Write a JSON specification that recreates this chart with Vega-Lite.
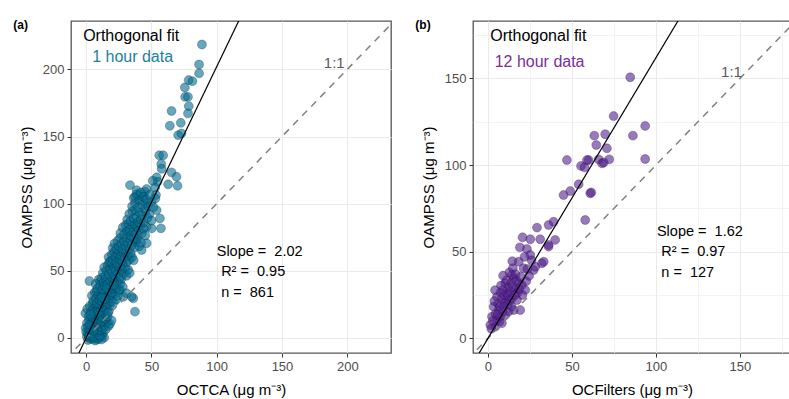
{
  "$schema": "https://vega.github.io/schema/vega-lite/v6.json",
  "padding": {"left": 12, "top": 18, "right": 0, "bottom": 0},
  "spacing": 22,
  "config": {
    "font": "Liberation Sans",
    "view": {"stroke": "#555555", "strokeWidth": 1.3},
    "axis": {"domain": false, "gridColor": "#ebebeb", "tickColor": "#333333", "tickSize": 4, "tickWidth": 1, "labelColor": "#4d4d4d", "labelFontSize": 13, "labelPadding": 3, "titleFontSize": 15, "titleFontWeight": "normal", "titleColor": "#000000", "labelFont": "Liberation Sans", "titleFont": "Liberation Sans", "labelOverlap": false, "labelFlush": false}
  },
  "datasets": {
    "a": [
      {"x":88.7,"y":218.5},{"x":86.5,"y":203.6},{"x":86.5,"y":197},{"x":78.5,"y":192},{"x":81.4,"y":191.2},{"x":75.6,"y":186.5},{"x":75.8,"y":179.5},{"x":78,"y":179.5},{"x":78.6,"y":172.6},{"x":78,"y":167.2},{"x":65.4,"y":169},{"x":64.1,"y":158},{"x":72.5,"y":160.2},{"x":70.5,"y":151},{"x":73,"y":152.3},{"x":56,"y":136},{"x":59,"y":136},{"x":57.5,"y":129.5},{"x":57.8,"y":126},{"x":54,"y":119.6},{"x":54.7,"y":116.3},{"x":65.4,"y":123.3},{"x":62.8,"y":114.4},{"x":70,"y":113.3},{"x":69.2,"y":120},{"x":33.6,"y":113.8},{"x":38.7,"y":110},{"x":45,"y":108.9},{"x":46.3,"y":110.9},{"x":37.4,"y":105},{"x":43.7,"y":105},{"x":41.2,"y":102.7},{"x":46.3,"y":100.2},{"x":54,"y":95.2},{"x":56.5,"y":89},{"x":57.3,"y":81.6},{"x":46.3,"y":82.8},{"x":50.2,"y":81.6},{"x":32.3,"y":79},{"x":36.1,"y":84},{"x":38.7,"y":72.9},{"x":46.3,"y":70.5},{"x":42.5,"y":65.5},{"x":37.4,"y":19.6},{"x":36.1,"y":29.5},{"x":2.5,"y":42.4},{"x":10.7,"y":41.9},{"x":26,"y":35.7},{"x":28.5,"y":30.7},{"x":31,"y":33.3},{"x":34.9,"y":30.7},{"x":40,"y":106.4},{"x":52.8,"y":112},{"x":53.5,"y":106.5},{"x":51,"y":117},
      {"x":0.5,"y":1},{"x":1.2,"y":3.5},{"x":2,"y":0.5},{"x":2.8,"y":2.2},{"x":3.5,"y":4.6},{"x":4.1,"y":1.1},{"x":4.9,"y":-0.8},{"x":5.6,"y":2.7},{"x":6.3,"y":0.3},{"x":7,"y":3.9},{"x":7.8,"y":1.5},{"x":8.5,"y":-1.2},{"x":9.1,"y":2.4},{"x":9.9,"y":4.1},{"x":10.6,"y":0.6},{"x":11.4,"y":2.9},{"x":12.2,"y":1.3},{"x":13,"y":3.6},{"x":13.8,"y":0.2},{"x":1.5,"y":-1.5},{"x":3,"y":-0.5},{"x":6.8,"y":-1.9},{"x":9.5,"y":-0.4},{"x":11.8,"y":-1.1},{"x":0,"y":4.5},{"x":4.4,"y":3.2},{"x":8.1,"y":4.8},{"x":2.3,"y":1.8},{"x":5.2,"y":0.9},{"x":10.2,"y":1.9},
      {"x":-0.4,"y":7.5},{"x":0.6,"y":11.2},{"x":1.4,"y":8.3},{"x":2.2,"y":13.6},{"x":3.1,"y":6.4},{"x":3.9,"y":10.1},{"x":4.6,"y":14.2},{"x":5.3,"y":7.7},{"x":6.1,"y":12.4},{"x":6.9,"y":9.1},{"x":7.6,"y":14.8},{"x":8.3,"y":6.2},{"x":9,"y":11.5},{"x":9.8,"y":8.6},{"x":10.5,"y":13.3},{"x":11.2,"y":5.8},{"x":12,"y":10.4},{"x":12.7,"y":7.1},{"x":13.5,"y":12.6},{"x":14.3,"y":9.3},{"x":15.1,"y":6.5},{"x":16,"y":11.8},{"x":17.2,"y":8.9},{"x":18.3,"y":10.5},{"x":19.5,"y":13.1},{"x":2.7,"y":9.8},{"x":5.7,"y":5.4},{"x":8.8,"y":13.9},{"x":11.6,"y":12.1},{"x":14.8,"y":14.4},
      {"x":-0.6,"y":18.4},{"x":0.8,"y":21.7},{"x":1.9,"y":16.2},{"x":2.9,"y":23.8},{"x":3.7,"y":19.3},{"x":4.6,"y":15.6},{"x":5.4,"y":22.1},{"x":6.2,"y":18.7},{"x":7.1,"y":24.6},{"x":7.9,"y":16.9},{"x":8.8,"y":20.8},{"x":9.6,"y":23.2},{"x":10.4,"y":17.5},{"x":11.3,"y":21.3},{"x":12.1,"y":15.4},{"x":13,"y":19.6},{"x":13.9,"y":24.1},{"x":14.7,"y":17.8},{"x":15.6,"y":22.4},{"x":16.5,"y":16.1},{"x":17.4,"y":20.2},{"x":18.2,"y":23.9},{"x":5.1,"y":26.1},{"x":9.2,"y":18.9},{"x":12.6,"y":23},{"x":16.9,"y":19},{"x":3.3,"y":17.4},{"x":10.9,"y":25.2},
      {"x":4.4,"y":31.5},{"x":5.5,"y":27.8},{"x":6.6,"y":33.9},{"x":7.5,"y":29.4},{"x":8.4,"y":25.7},{"x":9.3,"y":32.2},{"x":10.2,"y":28.1},{"x":11.1,"y":34.6},{"x":12,"y":26.9},{"x":12.9,"y":30.8},{"x":13.8,"y":33.5},{"x":14.7,"y":27.4},{"x":15.6,"y":31.1},{"x":16.5,"y":25.5},{"x":17.4,"y":29.7},{"x":18.3,"y":34.2},{"x":19.2,"y":27.2},{"x":20.1,"y":31.8},{"x":21,"y":26.3},{"x":22,"y":33},{"x":23.1,"y":28.6},{"x":24.2,"y":31.4},{"x":8,"y":35},{"x":14.2,"y":29},{"x":19.7,"y":33.8},{"x":11.6,"y":30.3},
      {"x":7.3,"y":40.2},{"x":8.6,"y":36.8},{"x":9.7,"y":43.5},{"x":10.7,"y":38.9},{"x":11.7,"y":44.6},{"x":12.6,"y":36.2},{"x":13.5,"y":41.8},{"x":14.4,"y":38.3},{"x":15.3,"y":44.1},{"x":16.2,"y":39.7},{"x":17.1,"y":35.6},{"x":18,"y":42.9},{"x":18.9,"y":38.8},{"x":19.8,"y":44.8},{"x":20.7,"y":36.9},{"x":21.6,"y":41.2},{"x":22.5,"y":43.9},{"x":23.4,"y":37.7},{"x":24.3,"y":41.6},{"x":25.2,"y":35.9},{"x":26.1,"y":40.4},{"x":27.1,"y":44.2},{"x":28.1,"y":38.1},{"x":15.8,"y":36.9},{"x":21.1,"y":39.3},
      {"x":12.8,"y":48.5},{"x":13.8,"y":52.6},{"x":14.7,"y":46.3},{"x":15.6,"y":50.4},{"x":16.5,"y":54.2},{"x":17.4,"y":47.3},{"x":18.3,"y":51.5},{"x":19.2,"y":55.3},{"x":20.1,"y":49.2},{"x":21,"y":53.4},{"x":21.9,"y":46.4},{"x":22.8,"y":50.1},{"x":23.7,"y":54.5},{"x":24.6,"y":48.2},{"x":25.5,"y":52.3},{"x":26.4,"y":45.8},{"x":27.3,"y":50.6},{"x":28.2,"y":54},{"x":29.1,"y":47.9},{"x":30,"y":52.2},{"x":31,"y":46.3},{"x":32.2,"y":50.8},{"x":33.4,"y":48.4},{"x":17.6,"y":56.3},{"x":22.3,"y":57.8},
      {"x":17.1,"y":60.2},{"x":18.6,"y":57.3},{"x":19.6,"y":62.4},{"x":20.5,"y":58.1},{"x":21.4,"y":64.1},{"x":22.3,"y":60.3},{"x":23.2,"y":56.2},{"x":24.1,"y":62.5},{"x":25,"y":64.8},{"x":25.9,"y":58.4},{"x":26.8,"y":61.2},{"x":27.7,"y":57.1},{"x":28.6,"y":63.3},{"x":29.5,"y":59.4},{"x":30.4,"y":64.3},{"x":31.3,"y":56.4},{"x":32.2,"y":61.1},{"x":33.1,"y":58.2},{"x":34.1,"y":63.2},{"x":35.2,"y":60.1},{"x":36.4,"y":57.8},{"x":20.3,"y":67},
      {"x":21.6,"y":70.2},{"x":23,"y":66.4},{"x":24,"y":72.3},{"x":25,"y":68.2},{"x":26,"y":74.4},{"x":27,"y":70.1},{"x":28,"y":66.3},{"x":29,"y":72.2},{"x":30,"y":68.5},{"x":31,"y":74.8},{"x":32,"y":70.3},{"x":33,"y":66.5},{"x":34,"y":73.2},{"x":35,"y":69.1},{"x":36,"y":74.3},{"x":37,"y":67.2},{"x":38.2,"y":71.4},{"x":39.4,"y":73.6},{"x":40.6,"y":68.3},{"x":42,"y":70.8},
      {"x":26.2,"y":78.1},{"x":28,"y":82.3},{"x":29.1,"y":77.2},{"x":30.2,"y":84.1},{"x":31.2,"y":79.3},{"x":32.2,"y":85},{"x":33.2,"y":80.4},{"x":34.2,"y":76.2},{"x":35.2,"y":83.3},{"x":36.2,"y":79.1},{"x":37.2,"y":84.6},{"x":38.2,"y":77.3},{"x":39.2,"y":82.2},{"x":40.3,"y":80.1},{"x":41.5,"y":84.2},{"x":42.7,"y":77.8},{"x":44,"y":81.3},{"x":45.3,"y":76.4},
      {"x":31.5,"y":88.2},{"x":33,"y":92.4},{"x":34.2,"y":87.1},{"x":35.4,"y":94.3},{"x":36.5,"y":89.2},{"x":37.6,"y":95},{"x":38.7,"y":90.1},{"x":39.8,"y":86.3},{"x":40.9,"y":93.2},{"x":42,"y":88.4},{"x":43.1,"y":91.3},{"x":44.3,"y":86.2},{"x":45.6,"y":94.1},{"x":47,"y":89.3},{"x":48.5,"y":92.2},{"x":50.1,"y":87.4},
      {"x":35.2,"y":98.1},{"x":36.4,"y":104.2},{"x":37.5,"y":100.3},{"x":38.6,"y":107.1},{"x":39.7,"y":97.2},{"x":40.8,"y":102.3},{"x":41.9,"y":108.2},{"x":43,"y":99.1},{"x":44.1,"y":105.2},{"x":45.2,"y":96.3},{"x":46.3,"y":103.1},{"x":47.5,"y":98.2},{"x":48.8,"y":106.6},{"x":50.1,"y":101.2},{"x":51.5,"y":97.4},{"x":53,"y":103.8}
    ],
    "b": [
      {"x":84.7,"y":150.7},{"x":74.8,"y":128.3},{"x":93.6,"y":122.6},{"x":63.3,"y":117},{"x":69.8,"y":117.8},{"x":86.3,"y":117},{"x":64.5,"y":111.6},{"x":70.8,"y":109.7},{"x":47,"y":102.9},{"x":59.9,"y":102.9},{"x":65.9,"y":103.3},{"x":67.9,"y":101},{"x":72.2,"y":103.3},{"x":55.4,"y":99.5},{"x":57.5,"y":98.7},{"x":93.6,"y":103.5},{"x":54,"y":88.9},{"x":60.9,"y":83.7},{"x":61.5,"y":84.2},{"x":49,"y":85},{"x":45,"y":82.7},{"x":58.9,"y":102.9},{"x":68.9,"y":101.5},{"x":57.9,"y":68.3},{"x":29.2,"y":63.9},{"x":36.1,"y":65.4},{"x":39.1,"y":67.3},{"x":20.6,"y":58.3},{"x":25.2,"y":57.2},{"x":31.1,"y":57.2},{"x":36.1,"y":53.9},{"x":40,"y":56.8},{"x":23.2,"y":51.6},{"x":25.2,"y":48.1},{"x":18.3,"y":44.2},{"x":21.2,"y":40.4},{"x":27.2,"y":39.4},{"x":32.1,"y":43.3},{"x":28.2,"y":41.3},{"x":36.1,"y":52.9},{"x":33.2,"y":44.2},{"x":14.3,"y":36.5},{"x":15.3,"y":34.6},{"x":10.3,"y":31.8},{"x":12.3,"y":29.8},{"x":18.3,"y":31.8},{"x":16.2,"y":27.9},{"x":20.2,"y":30.8},{"x":22.2,"y":27.9},{"x":5.4,"y":24},{"x":8.3,"y":23.1},{"x":11.3,"y":26},{"x":14.3,"y":23.1},{"x":17.3,"y":22.1},{"x":19.2,"y":16.3},{"x":3.4,"y":18.2},{"x":6.4,"y":16.3},{"x":9.3,"y":18.2},{"x":12.3,"y":15.4},{"x":15.3,"y":16.3},{"x":2.4,"y":12.5},{"x":5.4,"y":10.6},{"x":1.4,"y":7.7},{"x":4.4,"y":6.7},{"x":7.3,"y":12.5},{"x":8.3,"y":8.7},{"x":10.3,"y":13.5},
      {"x":6,"y":20},{"x":7.5,"y":26.5},{"x":9,"y":28},{"x":10.8,"y":22},{"x":11.8,"y":19.5},{"x":13,"y":27},{"x":13.8,"y":32},{"x":15,"y":29.5},{"x":16.8,"y":33.5},{"x":17.8,"y":26.5},{"x":11,"y":33.5},{"x":12.8,"y":38},{"x":14.8,"y":40.5},{"x":16.5,"y":37},{"x":19.5,"y":35.5},{"x":20.5,"y":25},{"x":7,"y":18.5},{"x":8.8,"y":15.2},{"x":10,"y":20.5},{"x":12.8,"y":21.5},{"x":14,"y":18.2},{"x":4.5,"y":14},{"x":6.8,"y":9.5},{"x":3,"y":10},{"x":2,"y":5.5},{"x":5.8,"y":13.5},{"x":9.5,"y":25},{"x":12,"y":24.5},{"x":16,"y":25},{"x":18.5,"y":28.5},{"x":22.8,"y":33},{"x":24.5,"y":36},{"x":26,"y":45},{"x":23.5,"y":40},{"x":21.8,"y":47},{"x":19,"y":52.5},{"x":14.5,"y":44.5},{"x":9,"y":36.2},{"x":3.8,"y":21.5},{"x":7.8,"y":30.5},{"x":4.2,"y":27.8}
    ],
    "oneA": [{"x":-15,"y":-15},{"x":240,"y":240}],
    "fitA": [{"x":-8,"y":-16.2},{"x":125,"y":252.5}],
    "oneB": [{"x":-12,"y":-12},{"x":190,"y":190}],
    "fitB": [{"x":-8,"y":-13},{"x":120,"y":194.4}],
    "blank": [{}]
  },
  "hconcat": [
    {
      "width": 320,
      "height": 332,
      "title": {"text": "(a)", "anchor": "start", "frame": "bounds", "fontSize": 12, "fontWeight": "bold", "color": "#000000", "offset": -11, "dx": -6},
      "layer": [
        {
          "data": {"name": "a"},
          "mark": {"type": "circle", "size": 80, "fill": "#016c91", "fillOpacity": 0.6, "stroke": "#0a2430", "strokeOpacity": 0.5, "strokeWidth": 0.6, "clip": true},
          "encoding": {
            "x": {"field": "x", "type": "quantitative", "scale": {"domain": [-11.6, 233.5], "nice": false, "zero": false},
              "axis": {"values": [0,25,50,75,100,125,150,175,200,225], "labelExpr": "datum.value % 50 === 0 ? datum.label : ''", "gridWidth": {"condition": {"test": "datum.value % 50 === 0", "value": 1.1}, "value": 0.6}, "tickOpacity": {"condition": {"test": "datum.value % 50 === 0", "value": 1}, "value": 0}, "title": "OCTCA (μg m⁻³)", "titlePadding": 9}},
            "y": {"field": "y", "type": "quantitative", "scale": {"domain": [-11.2, 236], "nice": false, "zero": false},
              "axis": {"values": [0,25,50,75,100,125,150,175,200,225], "labelExpr": "datum.value % 50 === 0 ? datum.label : ''", "gridWidth": {"condition": {"test": "datum.value % 50 === 0", "value": 1.1}, "value": 0.6}, "tickOpacity": {"condition": {"test": "datum.value % 50 === 0", "value": 1}, "value": 0}, "title": "OAMPSS (μg m⁻³)", "titlePadding": 8}}
          }
        },
        {
          "data": {"name": "oneA"},
          "mark": {"type": "line", "color": "#808080", "strokeWidth": 1.5, "strokeDash": [7, 6], "clip": true},
          "encoding": {"x": {"field": "x", "type": "quantitative"}, "y": {"field": "y", "type": "quantitative"}}
        },
        {
          "data": {"name": "fitA"},
          "mark": {"type": "line", "color": "#000000", "strokeWidth": 1.2, "clip": true},
          "encoding": {"x": {"field": "x", "type": "quantitative"}, "y": {"field": "y", "type": "quantitative"}}
        },
        {
          "data": {"name": "blank"},
          "mark": {"type": "text", "text": "Orthogonal fit", "align": "left", "baseline": "middle", "fontSize": 16, "color": "#000000"},
          "encoding": {"x": {"datum": -2.3, "type": "quantitative"}, "y": {"datum": 224.7, "type": "quantitative"}}
        },
        {
          "data": {"name": "blank"},
          "mark": {"type": "text", "text": "1 hour data", "align": "left", "baseline": "middle", "fontSize": 16, "color": "#1b7fa0"},
          "encoding": {"x": {"datum": 4.6, "type": "quantitative"}, "y": {"datum": 209, "type": "quantitative"}}
        },
        {
          "data": {"name": "blank"},
          "mark": {"type": "text", "text": "1:1", "align": "center", "baseline": "middle", "fontSize": 15, "color": "#595959"},
          "encoding": {"x": {"datum": 190, "type": "quantitative"}, "y": {"datum": 204.6, "type": "quantitative"}}
        },
        {
          "data": {"name": "blank"},
          "mark": {"type": "text", "text": "Slope = \u00a02.02", "align": "left", "baseline": "middle", "fontSize": 14.5, "color": "#000000"},
          "encoding": {"x": {"datum": 100, "type": "quantitative"}, "y": {"datum": 64.2, "type": "quantitative"}}
        },
        {
          "data": {"name": "blank"},
          "mark": {"type": "text", "text": "R² = \u00a00.95", "align": "left", "baseline": "middle", "fontSize": 14.5, "color": "#000000"},
          "encoding": {"x": {"datum": 103.4, "type": "quantitative"}, "y": {"datum": 48.9, "type": "quantitative"}}
        },
        {
          "data": {"name": "blank"},
          "mark": {"type": "text", "text": "n = \u00a0861", "align": "left", "baseline": "middle", "fontSize": 14.5, "color": "#000000"},
          "encoding": {"x": {"datum": 103.4, "type": "quantitative"}, "y": {"datum": 33.2, "type": "quantitative"}}
        }
      ]
    },
    {
      "width": 318,
      "height": 332,
      "title": {"text": "(b)", "anchor": "start", "frame": "bounds", "fontSize": 12, "fontWeight": "bold", "color": "#000000", "offset": -11, "dx": -6},
      "layer": [
        {
          "data": {"name": "b"},
          "mark": {"type": "circle", "size": 80, "fill": "#54208f", "fillOpacity": 0.6, "stroke": "#20103a", "strokeOpacity": 0.5, "strokeWidth": 0.6, "clip": true},
          "encoding": {
            "x": {"field": "x", "type": "quantitative", "scale": {"domain": [-8.9, 180.4], "nice": false, "zero": false},
              "axis": {"values": [0,25,50,75,100,125,150,175], "labelExpr": "datum.value % 50 === 0 ? datum.label : ''", "gridWidth": {"condition": {"test": "datum.value % 50 === 0", "value": 1.1}, "value": 0.6}, "tickOpacity": {"condition": {"test": "datum.value % 50 === 0", "value": 1}, "value": 0}, "title": "OCFilters (μg m⁻³)", "titlePadding": 9}},
            "y": {"field": "y", "type": "quantitative", "scale": {"domain": [-8.5, 183.2], "nice": false, "zero": false},
              "axis": {"values": [0,25,50,75,100,125,150,175], "labelExpr": "datum.value % 50 === 0 ? datum.label : ''", "gridWidth": {"condition": {"test": "datum.value % 50 === 0", "value": 1.1}, "value": 0.6}, "tickOpacity": {"condition": {"test": "datum.value % 50 === 0", "value": 1}, "value": 0}, "title": "OAMPSS (μg m⁻³)", "titlePadding": 8}}
          }
        },
        {
          "data": {"name": "oneB"},
          "mark": {"type": "line", "color": "#808080", "strokeWidth": 1.5, "strokeDash": [7, 6], "clip": true},
          "encoding": {"x": {"field": "x", "type": "quantitative"}, "y": {"field": "y", "type": "quantitative"}}
        },
        {
          "data": {"name": "fitB"},
          "mark": {"type": "line", "color": "#000000", "strokeWidth": 1.2, "clip": true},
          "encoding": {"x": {"field": "x", "type": "quantitative"}, "y": {"field": "y", "type": "quantitative"}}
        },
        {
          "data": {"name": "blank"},
          "mark": {"type": "text", "text": "Orthogonal fit", "align": "left", "baseline": "middle", "fontSize": 16, "color": "#000000"},
          "encoding": {"x": {"datum": 1.4, "type": "quantitative"}, "y": {"datum": 174.5, "type": "quantitative"}}
        },
        {
          "data": {"name": "blank"},
          "mark": {"type": "text", "text": "12 hour data", "align": "left", "baseline": "middle", "fontSize": 16, "color": "#7b2d9b"},
          "encoding": {"x": {"datum": 4, "type": "quantitative"}, "y": {"datum": 159.3, "type": "quantitative"}}
        },
        {
          "data": {"name": "blank"},
          "mark": {"type": "text", "text": "1:1", "align": "center", "baseline": "middle", "fontSize": 15, "color": "#595959"},
          "encoding": {"x": {"datum": 145, "type": "quantitative"}, "y": {"datum": 153.7, "type": "quantitative"}}
        },
        {
          "data": {"name": "blank"},
          "mark": {"type": "text", "text": "Slope = \u00a01.62", "align": "left", "baseline": "middle", "fontSize": 14.5, "color": "#000000"},
          "encoding": {"x": {"datum": 100.6, "type": "quantitative"}, "y": {"datum": 61.5, "type": "quantitative"}}
        },
        {
          "data": {"name": "blank"},
          "mark": {"type": "text", "text": "R² = \u00a00.97", "align": "left", "baseline": "middle", "fontSize": 14.5, "color": "#000000"},
          "encoding": {"x": {"datum": 103.2, "type": "quantitative"}, "y": {"datum": 49.6, "type": "quantitative"}}
        },
        {
          "data": {"name": "blank"},
          "mark": {"type": "text", "text": "n = \u00a0127", "align": "left", "baseline": "middle", "fontSize": 14.5, "color": "#000000"},
          "encoding": {"x": {"datum": 103.2, "type": "quantitative"}, "y": {"datum": 37.5, "type": "quantitative"}}
        }
      ]
    }
  ]
}
